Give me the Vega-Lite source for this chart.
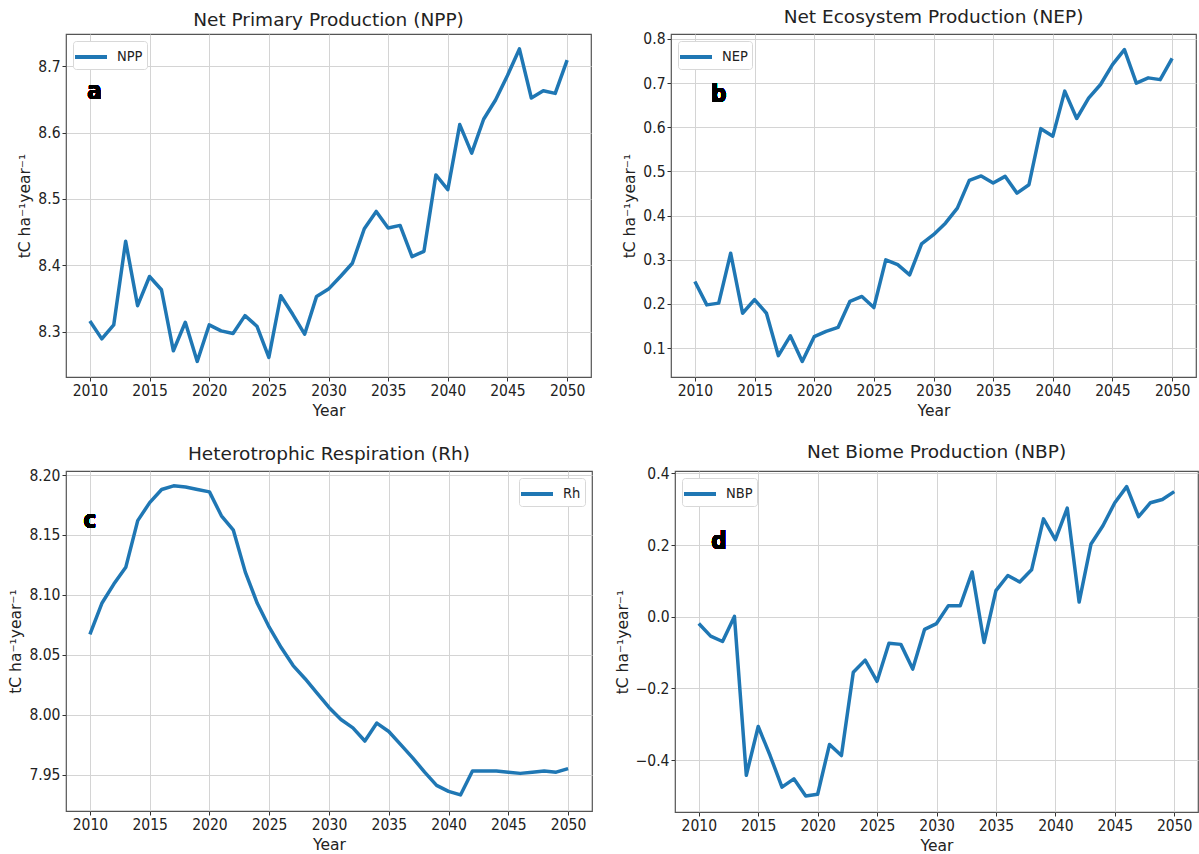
{
  "$schema": "https://vega.github.io/schema/vega-lite/v6.json",
  "background": "white",
  "padding": {"left": 8, "top": 7, "right": 0, "bottom": 0},
  "config": {
    "font": "DejaVu Sans",
    "view": {"stroke": "#555555", "strokeWidth": 1.2},
    "axis": {
      "grid": true, "gridColor": "#d4d4d4", "gridWidth": 1,
      "domain": false, "tickColor": "#333333", "tickSize": 4,
      "labelFont": "DejaVu Sans Condensed, DejaVu Sans", "labelFontSize": 15.5, "labelColor": "#222222", "labelPadding": 2,
      "titleFont": "DejaVu Sans", "titleFontWeight": "normal", "titleFontSize": 15.5, "titleColor": "#222222", "titlePadding": 5
    },
    "title": {"font": "DejaVu Sans", "fontSize": 18.5, "fontWeight": "normal", "color": "#222222", "offset": 5},
    "legend": {
      "title": null, "offset": 7, "fillColor": "white", "strokeColor": "#d8d8d8", "cornerRadius": 3, "padding": 4,
      "symbolType": "M-1.6,0H1.6", "symbolSize": 400, "symbolStrokeWidth": 4, "symbolOffset": 2, "labelOffset": 14,
      "labelFont": "DejaVu Sans Condensed, DejaVu Sans", "labelFontSize": 14.5, "labelColor": "#222222"
    }
  },
  "datasets": {
    "carbon": [
      {"Year": 2010, "NPP": 8.316, "NEP": 0.251, "Rh": 8.067, "NBP": -0.019},
      {"Year": 2011, "NPP": 8.289, "NEP": 0.198, "Rh": 8.093, "NBP": -0.054},
      {"Year": 2012, "NPP": 8.310, "NEP": 0.202, "Rh": 8.109, "NBP": -0.069},
      {"Year": 2013, "NPP": 8.436, "NEP": 0.315, "Rh": 8.123, "NBP": 0.001},
      {"Year": 2014, "NPP": 8.339, "NEP": 0.179, "Rh": 8.162, "NBP": -0.442},
      {"Year": 2015, "NPP": 8.383, "NEP": 0.210, "Rh": 8.177, "NBP": -0.306},
      {"Year": 2016, "NPP": 8.363, "NEP": 0.179, "Rh": 8.188, "NBP": -0.387},
      {"Year": 2017, "NPP": 8.271, "NEP": 0.083, "Rh": 8.191, "NBP": -0.475},
      {"Year": 2018, "NPP": 8.314, "NEP": 0.128, "Rh": 8.190, "NBP": -0.452},
      {"Year": 2019, "NPP": 8.255, "NEP": 0.070, "Rh": 8.188, "NBP": -0.500},
      {"Year": 2020, "NPP": 8.310, "NEP": 0.126, "Rh": 8.186, "NBP": -0.495},
      {"Year": 2021, "NPP": 8.301, "NEP": 0.138, "Rh": 8.166, "NBP": -0.356},
      {"Year": 2022, "NPP": 8.297, "NEP": 0.147, "Rh": 8.154, "NBP": -0.387},
      {"Year": 2023, "NPP": 8.324, "NEP": 0.206, "Rh": 8.119, "NBP": -0.155},
      {"Year": 2024, "NPP": 8.308, "NEP": 0.217, "Rh": 8.093, "NBP": -0.121},
      {"Year": 2025, "NPP": 8.261, "NEP": 0.192, "Rh": 8.073, "NBP": -0.180},
      {"Year": 2026, "NPP": 8.354, "NEP": 0.300, "Rh": 8.056, "NBP": -0.074},
      {"Year": 2027, "NPP": 8.326, "NEP": 0.289, "Rh": 8.041, "NBP": -0.077},
      {"Year": 2028, "NPP": 8.296, "NEP": 0.266, "Rh": 8.030, "NBP": -0.146},
      {"Year": 2029, "NPP": 8.353, "NEP": 0.336, "Rh": 8.018, "NBP": -0.035},
      {"Year": 2030, "NPP": 8.364, "NEP": 0.357, "Rh": 8.006, "NBP": -0.019},
      {"Year": 2031, "NPP": 8.383, "NEP": 0.383, "Rh": 7.996, "NBP": 0.031},
      {"Year": 2032, "NPP": 8.403, "NEP": 0.417, "Rh": 7.989, "NBP": 0.031},
      {"Year": 2033, "NPP": 8.455, "NEP": 0.480, "Rh": 7.978, "NBP": 0.125},
      {"Year": 2034, "NPP": 8.481, "NEP": 0.490, "Rh": 7.993, "NBP": -0.072},
      {"Year": 2035, "NPP": 8.456, "NEP": 0.474, "Rh": 7.986, "NBP": 0.073},
      {"Year": 2036, "NPP": 8.460, "NEP": 0.489, "Rh": 7.975, "NBP": 0.115},
      {"Year": 2037, "NPP": 8.413, "NEP": 0.451, "Rh": 7.964, "NBP": 0.097},
      {"Year": 2038, "NPP": 8.421, "NEP": 0.470, "Rh": 7.952, "NBP": 0.131},
      {"Year": 2039, "NPP": 8.536, "NEP": 0.597, "Rh": 7.941, "NBP": 0.273},
      {"Year": 2040, "NPP": 8.514, "NEP": 0.580, "Rh": 7.936, "NBP": 0.215},
      {"Year": 2041, "NPP": 8.612, "NEP": 0.682, "Rh": 7.933, "NBP": 0.303},
      {"Year": 2042, "NPP": 8.569, "NEP": 0.620, "Rh": 7.953, "NBP": 0.041},
      {"Year": 2043, "NPP": 8.620, "NEP": 0.666, "Rh": 7.953, "NBP": 0.203},
      {"Year": 2044, "NPP": 8.649, "NEP": 0.697, "Rh": 7.953, "NBP": 0.254},
      {"Year": 2045, "NPP": 8.686, "NEP": 0.742, "Rh": 7.952, "NBP": 0.318},
      {"Year": 2046, "NPP": 8.726, "NEP": 0.776, "Rh": 7.951, "NBP": 0.363},
      {"Year": 2047, "NPP": 8.652, "NEP": 0.700, "Rh": 7.952, "NBP": 0.279},
      {"Year": 2048, "NPP": 8.663, "NEP": 0.712, "Rh": 7.953, "NBP": 0.318},
      {"Year": 2049, "NPP": 8.659, "NEP": 0.708, "Rh": 7.952, "NBP": 0.327},
      {"Year": 2050, "NPP": 8.709, "NEP": 0.756, "Rh": 7.955, "NBP": 0.349}
    ]
  },
  "data": {"name": "carbon"},
  "resolve": {"scale": {"color": "independent"}, "legend": {"color": "independent"}},
  "spacing": 22,
  "vconcat": [
    {
      "spacing": 30,
      "resolve": {"scale": {"color": "independent"}, "legend": {"color": "independent"}},
      "hconcat": [
        {
          "title": "Net Primary Production (NPP)",
          "width": 525, "height": 343,
          "encoding": {
            "x": {"field": "Year", "type": "quantitative", "scale": {"domain": [2008, 2052], "nice": false, "zero": false},
                  "axis": {"values": [2010, 2015, 2020, 2025, 2030, 2035, 2040, 2045, 2050], "format": "d", "title": "Year"}}
          },
          "layer": [
            {
              "mark": {"type": "line", "strokeWidth": 3.5, "strokeJoin": "round"},
              "encoding": {
                "y": {"field": "NPP", "type": "quantitative", "scale": {"domain": [8.2315, 8.7485], "nice": false, "zero": false},
                      "axis": {"values": [8.3, 8.4, 8.5, 8.6, 8.7], "format": ".1f", "title": "tC ha⁻¹year⁻¹"}},
                "color": {"datum": "NPP", "type": "nominal", "scale": {"range": ["#1f77b4"]}, "legend": {"orient": "top-left"}}
              }
            },
            {
              "mark": {"type": "text", "text": "a", "fontSize": 24, "fontWeight": "bold", "font": "DejaVu Sans Condensed, DejaVu Sans", "align": "center", "baseline": "alphabetic", "color": "black"},
              "encoding": {"x": {"datum": 2010.4}, "y": {"datum": 8.65}}
            }
          ]
        },
        {
          "title": "Net Ecosystem Production (NEP)",
          "width": 525, "height": 343,
          "encoding": {
            "x": {"field": "Year", "type": "quantitative", "scale": {"domain": [2008, 2052], "nice": false, "zero": false},
                  "axis": {"values": [2010, 2015, 2020, 2025, 2030, 2035, 2040, 2045, 2050], "format": "d", "title": "Year"}}
          },
          "layer": [
            {
              "mark": {"type": "line", "strokeWidth": 3.5, "strokeJoin": "round"},
              "encoding": {
                "y": {"field": "NEP", "type": "quantitative", "scale": {"domain": [0.0347, 0.8113], "nice": false, "zero": false},
                      "axis": {"values": [0.1, 0.2, 0.3, 0.4, 0.5, 0.6, 0.7, 0.8], "format": ".1f", "title": "tC ha⁻¹year⁻¹"}},
                "color": {"datum": "NEP", "type": "nominal", "scale": {"range": ["#1f77b4"]}, "legend": {"orient": "top-left"}}
              }
            },
            {
              "mark": {"type": "text", "text": "b", "fontSize": 24, "fontWeight": "bold", "font": "DejaVu Sans Condensed, DejaVu Sans", "align": "center", "baseline": "alphabetic", "color": "black"},
              "encoding": {"x": {"datum": 2012.0}, "y": {"datum": 0.657}}
            }
          ]
        }
      ]
    },
    {
      "spacing": 21,
      "resolve": {"scale": {"color": "independent"}, "legend": {"color": "independent"}},
      "hconcat": [
        {
          "title": "Heterotrophic Respiration (Rh)",
          "width": 526, "height": 340,
          "encoding": {
            "x": {"field": "Year", "type": "quantitative", "scale": {"domain": [2008, 2052], "nice": false, "zero": false},
                  "axis": {"values": [2010, 2015, 2020, 2025, 2030, 2035, 2040, 2045, 2050], "format": "d", "title": "Year"}}
          },
          "layer": [
            {
              "mark": {"type": "line", "strokeWidth": 3.5, "strokeJoin": "round"},
              "encoding": {
                "y": {"field": "Rh", "type": "quantitative", "scale": {"domain": [7.9196, 8.2034], "nice": false, "zero": false},
                      "axis": {"values": [7.95, 8.0, 8.05, 8.1, 8.15, 8.2], "format": ".2f", "title": "tC ha⁻¹year⁻¹"}},
                "color": {"datum": "Rh", "type": "nominal", "scale": {"range": ["#1f77b4"]}, "legend": {"orient": "top-right"}}
              }
            },
            {
              "mark": {"type": "text", "text": "c", "fontSize": 24, "fontWeight": "bold", "font": "DejaVu Sans Condensed, DejaVu Sans", "align": "center", "baseline": "alphabetic", "color": "black"},
              "encoding": {"x": {"datum": 2010.0}, "y": {"datum": 8.156}}
            }
          ]
        },
        {
          "title": "Net Biome Production (NBP)",
          "width": 523, "height": 341,
          "encoding": {
            "x": {"field": "Year", "type": "quantitative", "scale": {"domain": [2008, 2052], "nice": false, "zero": false},
                  "axis": {"values": [2010, 2015, 2020, 2025, 2030, 2035, 2040, 2045, 2050], "format": "d", "title": "Year"}}
          },
          "layer": [
            {
              "mark": {"type": "line", "strokeWidth": 3.5, "strokeJoin": "round"},
              "encoding": {
                "y": {"field": "NBP", "type": "quantitative", "scale": {"domain": [-0.5445, 0.4065], "nice": false, "zero": false},
                      "axis": {"values": [-0.4, -0.2, 0.0, 0.2, 0.4], "format": ".1f", "title": "tC ha⁻¹year⁻¹"}},
                "color": {"datum": "NBP", "type": "nominal", "scale": {"range": ["#1f77b4"]}, "legend": {"orient": "top-left"}}
              }
            },
            {
              "mark": {"type": "text", "text": "d", "fontSize": 24, "fontWeight": "bold", "font": "DejaVu Sans Condensed, DejaVu Sans", "align": "center", "baseline": "alphabetic", "color": "black"},
              "encoding": {"x": {"datum": 2011.7}, "y": {"datum": 0.188}}
            }
          ]
        }
      ]
    }
  ]
}
